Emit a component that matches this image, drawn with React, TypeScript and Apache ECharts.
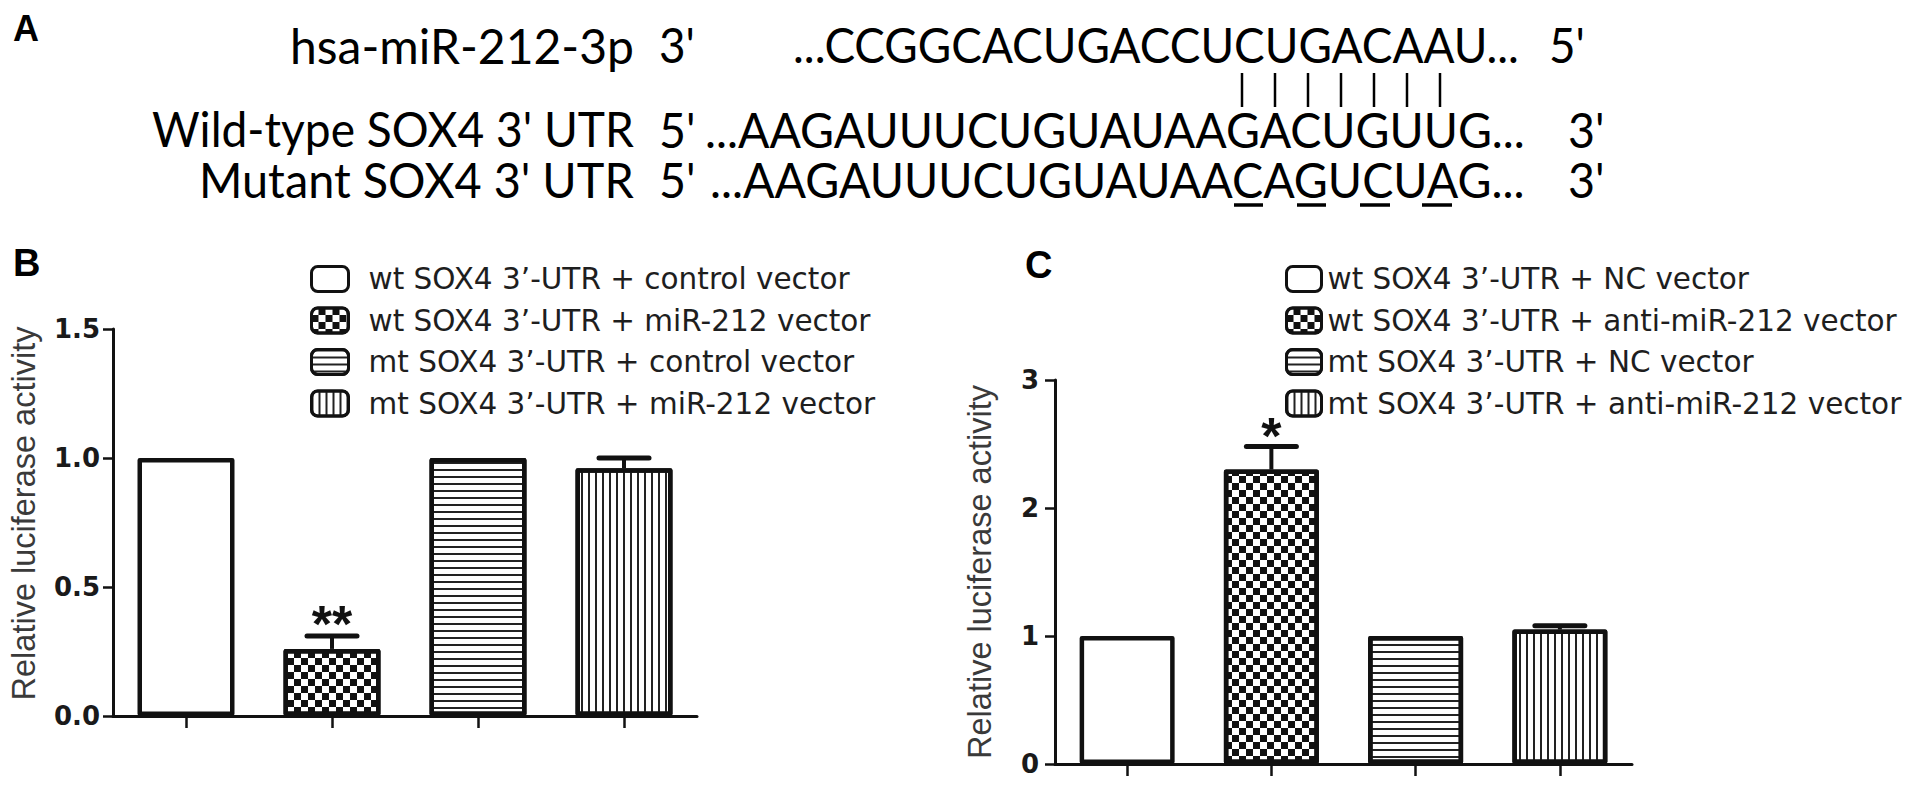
import React, { useEffect, useRef } from 'react';
import * as echarts from 'echarts';

// ---------- data ----------
const categories = ['1', '2', '3', '4'];

const legendB = [
  'wt SOX4 3’-UTR + control vector',
  'wt SOX4 3’-UTR + miR-212 vector',
  'mt SOX4 3’-UTR + control vector',
  'mt SOX4 3’-UTR + miR-212 vector',
];
const valuesB = [1.0, 0.26, 1.0, 0.96];
const errorsB = [0, 0.05, 0, 0.04];
const starsB = ['', '**', '', ''];

const legendC = [
  'wt SOX4 3’-UTR + NC vector',
  'wt SOX4 3’-UTR + anti-miR-212 vector',
  'mt SOX4 3’-UTR + NC vector',
  'mt SOX4 3’-UTR + anti-miR-212 vector',
];
const valuesC = [1.0, 2.3, 1.0, 1.05];
const errorsC = [0, 0.18, 0, 0.03];
const starsC = ['', '*', '', ''];

const yTitle = 'Relative luciferase activity';

const seqLabels = ['hsa-miR-212-3p', "Wild-type SOX4 3' UTR", "Mutant SOX4 3' UTR"];
const seqLeftEnds = ["3'", "5'", "5'"];
const sequences = [
  '...CCGGCACUGACCUCUGACAAU...',
  '...AAGAUUUCUGUAUAAGACUGUUG...',
  '...AAGAUUUCUGUAUAACAGUCUAG...',
];
const seqRightEnds = ["5'", "3'", "3'"];

// ---------- styles ----------
const INK = '#111';
const decals: any[] = [
  null,
  { symbol: 'rect', symbolSize: 1, color: INK, dashArrayX: [[7, 7], [0, 7, 7, 0]], dashArrayY: [7, 0] },
  { symbol: 'rect', symbolSize: 1, color: '#222', dashArrayX: [1, 0], dashArrayY: [2, 5] },
  { symbol: 'rect', symbolSize: 1, color: '#222', dashArrayX: [2, 5], dashArrayY: [1, 0] },
];

function barSeries(names: string[], values: number[], axisIndex: number, barWidth: number) {
  return names.map((name, k) => {
    const itemStyle: any = { color: '#fff', borderColor: INK, borderWidth: 4.5, borderJoin: 'round' };
    if (decals[k]) itemStyle.decal = decals[k];
    return {
      type: 'bar',
      name,
      xAxisIndex: axisIndex,
      yAxisIndex: axisIndex,
      stack: 'panel' + axisIndex,
      barWidth,
      data: values.map((v, i) => (i === k ? v : '-')),
      itemStyle,
      emphasis: { disabled: true },
    };
  });
}

function errorSeries(values: number[], errors: number[], stars: string[], axisIndex: number, starOffset: number) {
  return {
    type: 'custom',
    xAxisIndex: axisIndex,
    yAxisIndex: axisIndex,
    silent: true,
    z: 5,
    data: values.map((v, i) => [i, v, errors[i]]),
    renderItem: (params: any, api: any) => {
      const i = api.value(0);
      const v = api.value(1);
      const e = api.value(2);
      const base = api.coord([i, v]);
      const top = api.coord([i, v + e]);
      const children: any[] = [];
      if (e > 0) {
        children.push({
          type: 'line',
          shape: { x1: top[0], y1: base[1], x2: top[0], y2: top[1] },
          style: { stroke: INK, lineWidth: 4 },
        });
        children.push({
          type: 'line',
          shape: { x1: top[0] - 25, y1: top[1], x2: top[0] + 25, y2: top[1] },
          style: { stroke: INK, lineWidth: 5, lineCap: 'round' },
        });
      }
      const s = stars[params.dataIndex];
      if (s) {
        children.push({
          type: 'text',
          style: {
            text: s,
            x: top[0],
            y: top[1] + starOffset,
            align: 'center',
            verticalAlign: 'middle',
            fill: INK,
            fontSize: 52,
            fontWeight: 'bold',
            fontFamily: 'Liberation Sans, Arial, sans-serif',
          },
        });
      }
      return { type: 'group', children };
    },
  };
}

function yAxis(
  gridIndex: number,
  max: number,
  interval: number,
  digits: number,
  margin: number,
  nameGap: number,
  namePad: number[]
) {
  return {
    type: 'value',
    gridIndex,
    min: 0,
    max,
    interval,
    axisLine: { show: true, lineStyle: { color: INK, width: 3 } },
    axisTick: { show: true, length: 10, lineStyle: { color: INK, width: 2.5 } },
    axisLabel: {
      formatter: (v: number) => v.toFixed(digits),
      margin,
      fontFamily: 'DejaVu Sans',
      fontWeight: 'bold',
      fontSize: 26,
      color: '#1a1a1a',
    },
    splitLine: { show: false },
    name: yTitle,
    nameLocation: 'middle',
    nameRotate: 90,
    nameGap,
    nameMoveOverlap: false,
    nameTextStyle: {
      fontFamily: 'Liberation Sans, Arial, sans-serif',
      fontSize: 32.5,
      color: '#3a3a3a',
      verticalAlign: 'middle',
      padding: namePad,
    },
  };
}

function xAxis(gridIndex: number) {
  return {
    type: 'category',
    gridIndex,
    data: categories,
    axisLine: { show: true, lineStyle: { color: INK, width: 3 } },
    axisTick: { show: true, alignWithLabel: true, length: 12, lineStyle: { color: INK, width: 2.5 } },
    axisLabel: { show: false },
    splitLine: { show: false },
  };
}

function legend(data: string[], left: number, itemWidth: number, textPad: number) {
  return {
    orient: 'vertical',
    left,
    top: 259,
    itemWidth,
    itemHeight: 25,
    itemGap: 11.5,
    icon: 'roundRect',
    selectedMode: false,
    data,
    itemStyle: { borderWidth: 3, borderColor: INK },
    textStyle: {
      fontFamily: 'DejaVu Sans',
      fontSize: 29.5,
      lineHeight: 30,
      color: '#1e1e1e',
      padding: [0, 0, 0, textPad],
    },
  };
}

function panelAGraphics() {
  const ctx = document.createElement('canvas').getContext('2d') as CanvasRenderingContext2D;
  const family = 'Lato';
  const size = 48;
  const font = `${size}px ${family}`;
  const fit = (text: string, width: number) => {
    ctx.font = font;
    const w = ctx.measureText(text).width || 1;
    return width / w;
  };
  const rowY = [45, 129, 179];
  const labelSpan = [[290, 634], [152, 634], [199, 634]];
  const seqSpan = [[793, 1519], [705, 1525], [710, 1525]];
  const rightEndX = [1549, 1568, 1568];
  const els: any[] = [];
  const txt = (text: string, x: number, y: number, scaleX: number) => ({
    type: 'text',
    x,
    y,
    scaleX,
    style: { text, fill: '#000', fontSize: size, fontFamily: family, align: 'left', verticalAlign: 'middle' },
  });
  for (let r = 0; r < 3; r++) {
    const ls = fit(seqLabels[r], labelSpan[r][1] - labelSpan[r][0]);
    const ss = fit(sequences[r], seqSpan[r][1] - seqSpan[r][0]);
    els.push(txt(seqLabels[r], labelSpan[r][0], rowY[r], ls));
    els.push(txt(seqLeftEnds[r], 659, rowY[r], ss));
    els.push(txt(sequences[r], seqSpan[r][0], rowY[r], ss));
    els.push(txt(seqRightEnds[r], rightEndX[r], rowY[r], ss));
  }
  const pairX = [1242, 1275, 1308, 1341, 1374, 1407, 1440];
  pairX.forEach((x) =>
    els.push({ type: 'line', shape: { x1: x, y1: 73, x2: x, y2: 107 }, style: { stroke: '#000', lineWidth: 2.5 } })
  );
  const under = [[1234, 1263], [1297, 1326], [1360, 1390], [1422, 1452]];
  under.forEach(([a, b]) =>
    els.push({ type: 'line', shape: { x1: a, y1: 205, x2: b, y2: 205 }, style: { stroke: '#000', lineWidth: 3.5 } })
  );
  const panelLetter = (t: string, x: number, y: number, fs: number) => ({
    type: 'text',
    x,
    y,
    style: {
      text: t,
      fill: '#000',
      fontSize: fs,
      fontWeight: 'bold',
      fontFamily: 'Liberation Sans, Arial, sans-serif',
      align: 'left',
      verticalAlign: 'middle',
    },
  });
  els.push(panelLetter('A', 13, 28, 36));
  els.push(panelLetter('B', 13, 263, 38));
  els.push(panelLetter('C', 1025, 265, 38));
  return els;
}

export default function App() {
  const ref = useRef<HTMLDivElement>(null);
  useEffect(() => {
    document.body.style.margin = '0';
    if (!ref.current) return;
    const chart = echarts.init(ref.current, null, { renderer: 'svg' });
    const option: any = {
      animation: false,
      backgroundColor: '#fff',
      grid: [
        { left: 113, top: 329, width: 584, height: 387, outerBoundsMode: 'none', containLabel: false },
        { left: 1055, top: 380, width: 577, height: 384, outerBoundsMode: 'none', containLabel: false },
      ],
      xAxis: [xAxis(0), xAxis(1)],
      yAxis: [yAxis(0, 1.5, 0.5, 1, 13, 89, [0, 0, 0, 18]), yAxis(1, 3, 1, 0, 16, 75, [0, 0, 0, 0])],
      legend: [legend(legendB, 305, 37, 15), legend(legendC, 1280, 35, 1)],
      series: [
        ...barSeries(legendB, valuesB, 0, 97),
        errorSeries(valuesB, errorsB, starsB, 0, -12),
        ...barSeries(legendC, valuesC, 1, 95),
        errorSeries(valuesC, errorsC, starsC, 1, -11),
      ],
      graphic: panelAGraphics(),
    };
    chart.setOption(option);
    return () => chart.dispose();
  }, []);
  return (
    <div
      ref={ref}
      style={{ position: 'absolute', left: 0, top: 0, width: 1913, height: 793, background: '#fff' }}
    />
  );
}
